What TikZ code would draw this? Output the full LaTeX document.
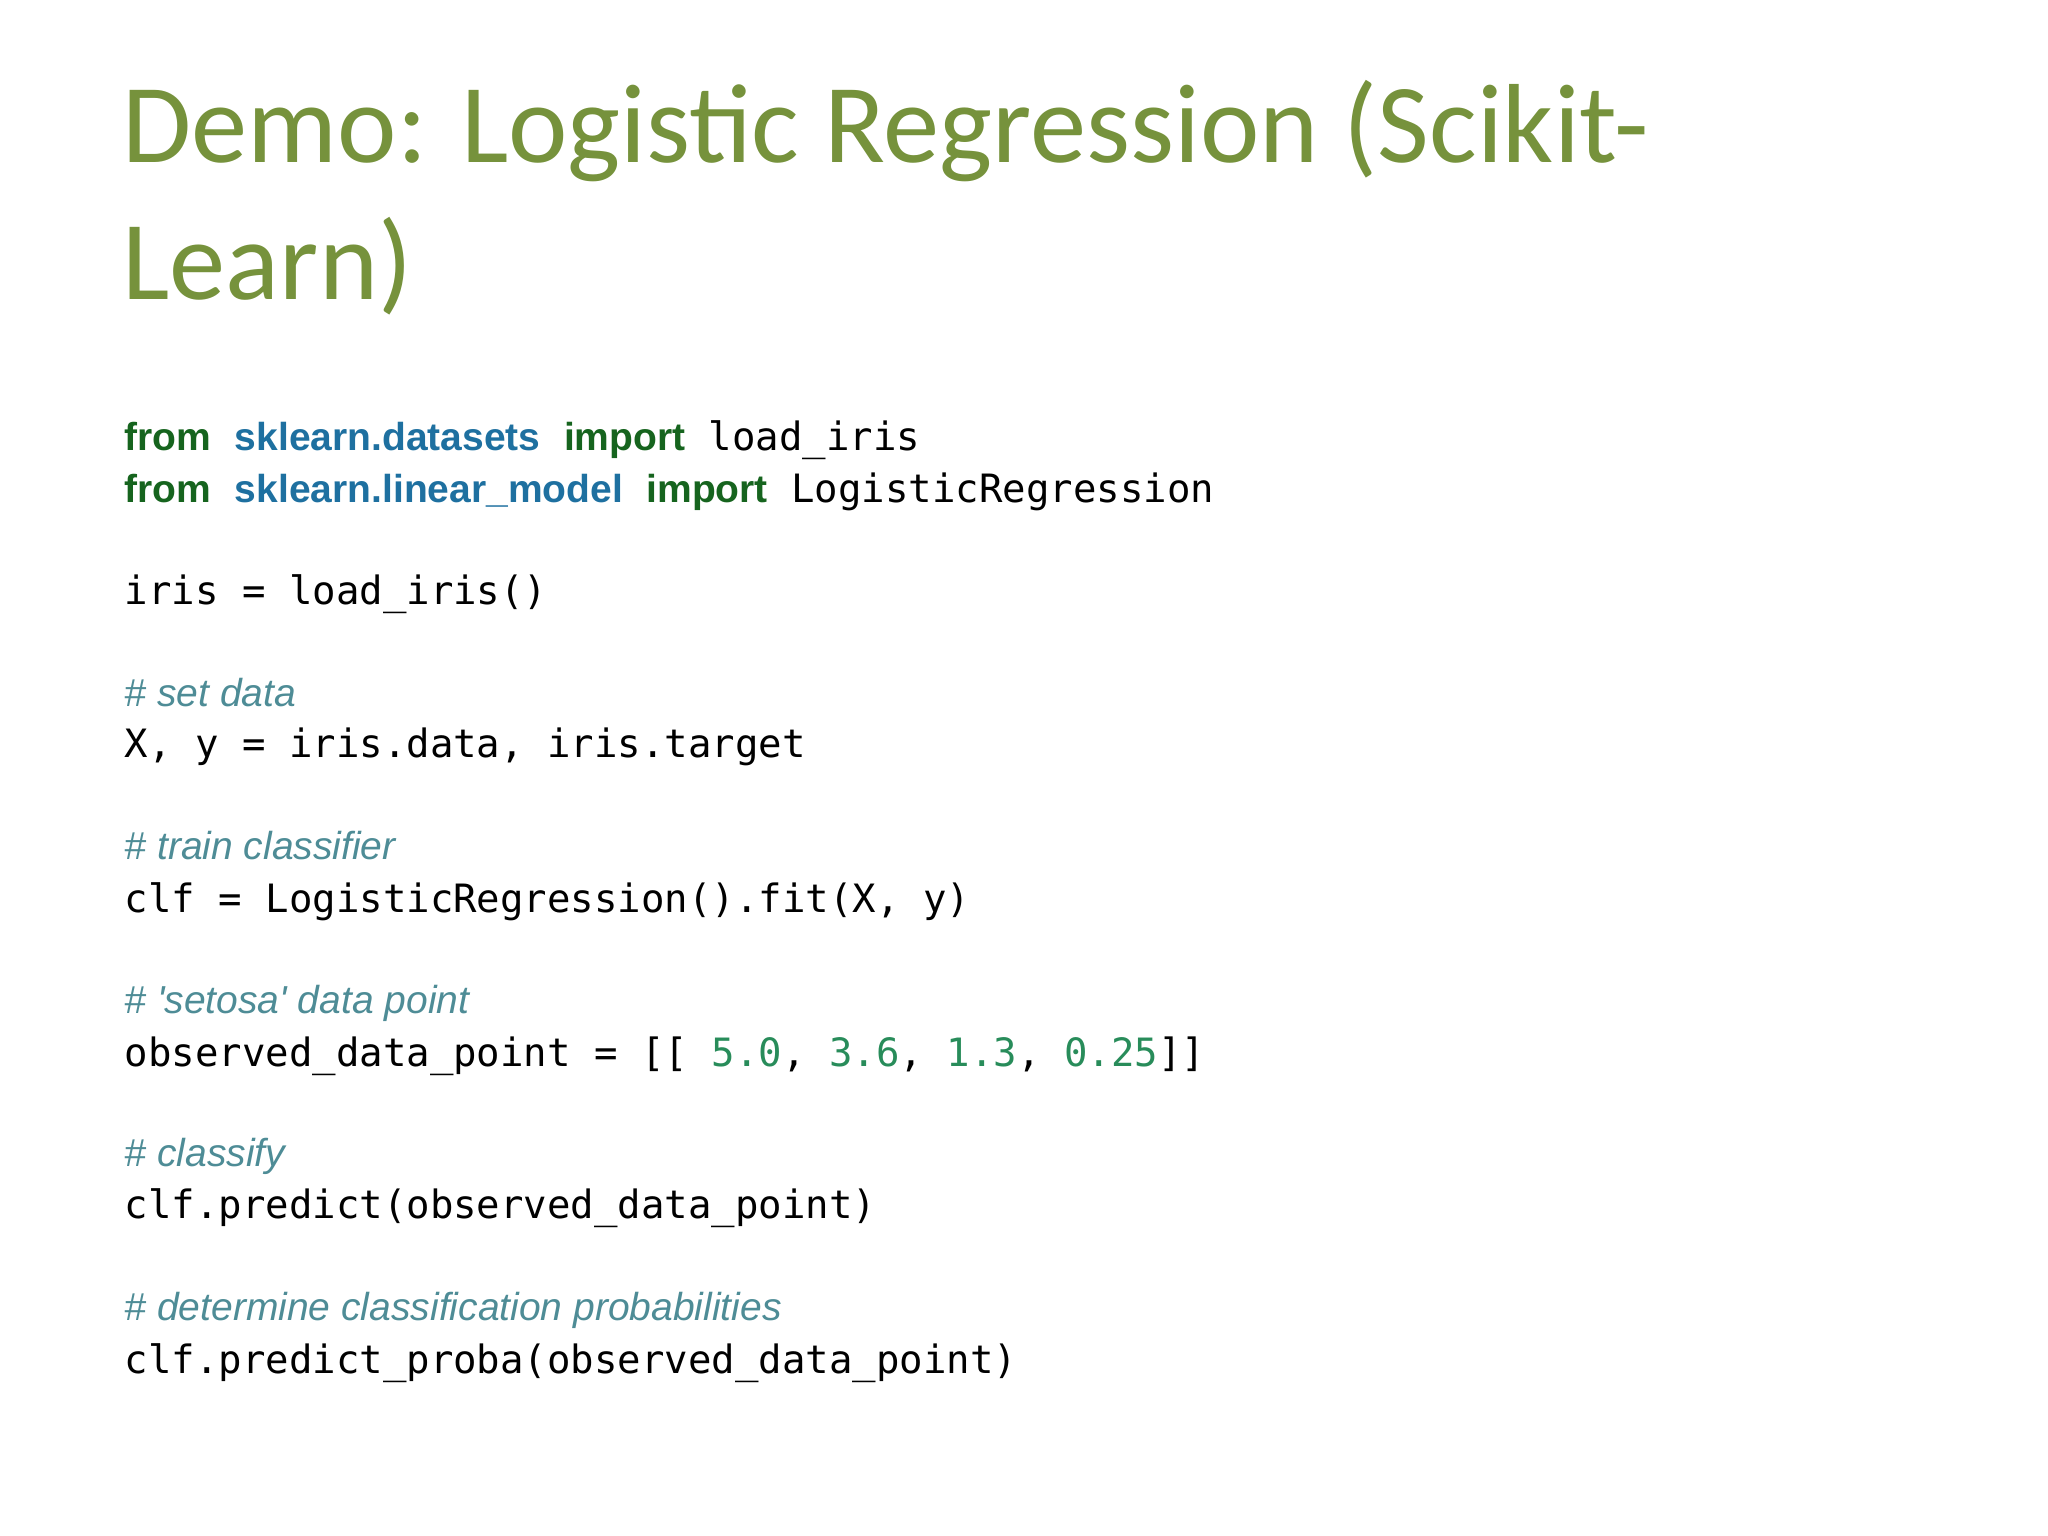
\documentclass[tikz,border=0pt]{standalone}
\usepackage{fontspec}
\setmainfont{Carlito}
\newfontfamily\kwfont{Liberation Sans}
\setmonofont{DejaVu Sans Mono}
\definecolor{titlegreen}{RGB}{118,146,60}
\definecolor{kwgreen}{RGB}{22,100,30}
\definecolor{modblue}{RGB}{30,112,160}
\definecolor{cmtteal}{RGB}{78,140,150}
\definecolor{numgreen}{RGB}{40,140,90}
\definecolor{dotgray}{RGB}{100,100,100}
\newcommand{\kw}[1]{{\kwfont\bfseries\color{kwgreen}#1}}
\newcommand{\md}[1]{{\kwfont\bfseries\color{modblue}#1}}
\newcommand{\cm}[1]{{\kwfont\itshape\color{cmtteal}#1}}
\newcommand{\nm}[1]{{\color{numgreen}#1}}
\begin{document}
\begin{tikzpicture}[x=1cm,y=1cm,
  ttl/.style={anchor=base west,inner sep=0,font=\fontsize{32}{38}\selectfont,text=titlegreen},
  code/.style={anchor=base west,inner sep=0,font=\ttfamily\fontsize{11.1}{13}\selectfont}]
\useasboundingbox (0,0) rectangle (20.48,-15.36);
\node[ttl] (t1) at (1.22,-1.63) {Demo: Logistic Regression (Scikit-};
\node[ttl] (t2) at (1.22,-3.0) {Learn)};
\node[code] (l1) at (1.24,-4.51) {\kw{from} \md{sklearn.datasets} \kw{import} load\_iris};
\node[code] (l2) at (1.24,-5.03) {\kw{from} \md{sklearn.linear\_model} \kw{import} LogisticRegression};
\node[code] (l3) at (1.24,-6.05) {iris = load\_iris()};
\node[code] (c1) at (1.24,-7.07) {\cm{\# set data}};
\node[code] (l4) at (1.24,-7.57) {X, y = iris.data, iris.target};
\node[code] (c2) at (1.24,-8.59) {\cm{\# train classifier}};
\node[code] (l5) at (1.24,-9.12) {clf = LogisticRegression().fit(X, y)};
\node[code] (c3) at (1.24,-10.13) {\cm{\# 'setosa' data point}};
\node[code] (l6) at (1.24,-10.66) {observed\_data\_point = [[ \nm{5.0},  \nm{3.6},  \nm{1.3},  \nm{0.25}]]};
\node[code] (c4) at (1.24,-11.66) {\cm{\# classify}};
\node[code] (l7) at (1.24,-12.18) {clf.predict(observed\_data\_point)};
\node[code] (c5) at (1.24,-13.20) {\cm{\# determine classification probabilities}};
\node[code] (l8) at (1.24,-13.73) {clf.predict\_proba(observed\_data\_point)};
\end{tikzpicture}
\end{document}
